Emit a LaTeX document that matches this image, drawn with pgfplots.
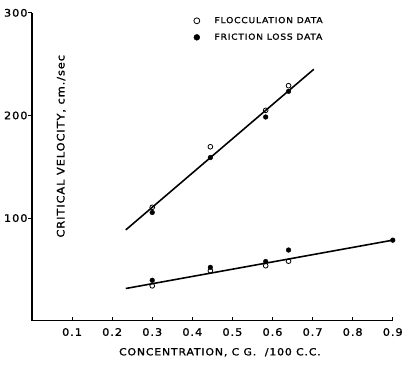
\documentclass[border=0pt]{standalone}
\usepackage{fontspec}
\setmainfont{DejaVu Sans}[LetterSpace=9, FakeBold=1.2, FakeStretch=1.1]
\usepackage{pgfplots}
\pgfplotsset{compat=1.18}
\begin{document}
\begin{tikzpicture}
\begin{axis}[
  scale only axis,
  width=365.6bp, height=312bp,
  xmin=0, xmax=0.9, ymin=0, ymax=300,
  axis lines=left,
  axis line style={-, line width=1.1bp},
  tick align=inside,
  major tick length=4bp,
  tick style={line width=1bp, black},
  y tick style={xshift=-4bp},
  xtick={0.1,0.2,0.3,0.4,0.5,0.6,0.7,0.8,0.9},
  xticklabels={0.1,0.2,0.3,0.4,0.5,0.6,0.7,0.8,0.9},
  ytick={100,200,300},
  yticklabels={100,200,300},
  ticklabel style={font=\fontsize{10.5}{12}\selectfont},
  xticklabel style={yshift=-4bp},
  yticklabel style={xshift=-1bp},
  xlabel={CONCENTRATION, C G.\ \ /100 C.C.},
  xlabel style={at={(axis description cs:0.521,-0.1025)}, anchor=center, font=\fontsize{10}{12}\selectfont},
  legend style={draw=none, fill=none, at={(axis description cs:0.44,1.0)}, anchor=north west,
    font=\fontsize{8.5}{10}\selectfont, row sep=5bp, column sep=13bp},
  legend image post style={mark size=3bp},
  legend cell align=left,
]
\addplot[only marks, mark=o, mark size=2.4bp, black, line width=0.8bp] coordinates {
 (0.30,110.5) (0.445,169.5) (0.583,205) (0.64,229)
 (0.30,34) (0.445,48.7) (0.583,53.6) (0.64,58)
};
\addlegendentry{FLOCCULATION DATA}
\addplot[only marks, mark=*, mark size=2.4bp, black] coordinates {
 (0.30,105.5) (0.445,159) (0.583,198.5) (0.64,223.5)
 (0.30,39.4) (0.445,52) (0.583,57.7) (0.64,68.9) (0.90,78.5)
};
\addlegendentry{FRICTION LOSS DATA}
\addplot[black, line width=1.6bp, forget plot] coordinates {(0.234,88.5) (0.703,245)};
\addplot[black, line width=1.6bp, forget plot] coordinates {(0.234,31.4) (0.9,78.5)};
\node[rotate=90, font=\fontsize{10.5}{12}\selectfont] at (axis cs:0.073,170) {CRITICAL VELOCITY, cm./sec};
\end{axis}
\path[use as bounding box] ([shift={(-32.4bp,-46bp)}]current axis.south west) rectangle ([shift={(8bp,13bp)}]current axis.north east);
\end{tikzpicture}
\end{document}
